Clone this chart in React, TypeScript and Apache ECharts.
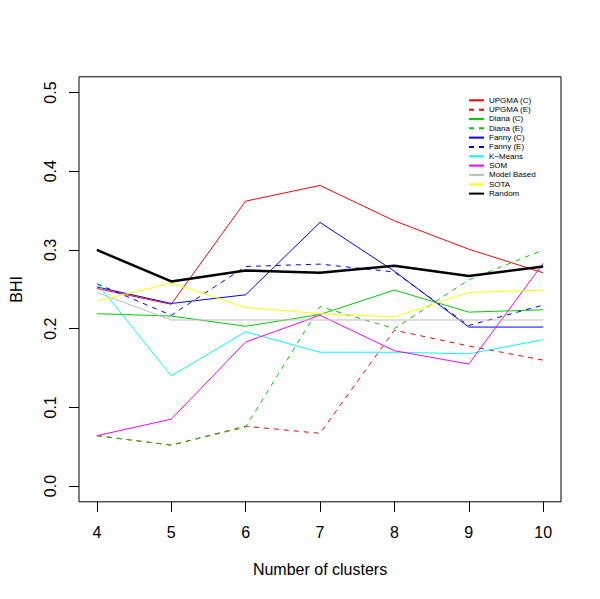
import React, { useEffect, useRef } from "react";
import * as echarts from "echarts";

const clusters = [4, 5, 6, 7, 8, 9, 10];
const yTicks = [0, 0.1, 0.2, 0.3, 0.4, 0.5];

const upgmaC = [0.251, 0.231, 0.362, 0.382, 0.337, 0.301, 0.271];
const upgmaE = [0.064, 0.052, 0.076, 0.067, 0.198, 0.178, 0.160];
const dianaC = [0.219, 0.216, 0.203, 0.218, 0.249, 0.221, 0.224];
const dianaE = [0.064, 0.052, 0.075, 0.228, 0.200, 0.262, 0.300];
const fannyC = [0.253, 0.232, 0.243, 0.335, 0.273, 0.202, 0.202];
const fannyE = [0.257, 0.217, 0.279, 0.282, 0.272, 0.204, 0.230];
const kMeans = [0.258, 0.140, 0.196, 0.170, 0.170, 0.168, 0.186];
const som = [0.064, 0.085, 0.183, 0.217, 0.172, 0.155, 0.283];
const modelBased = [0.246, 0.211, 0.211, 0.211, 0.211, 0.211, 0.211];
const sota = [0.235, 0.258, 0.227, 0.219, 0.215, 0.246, 0.249];
const randomBHI = [0.300, 0.260, 0.274, 0.271, 0.280, 0.267, 0.279];

const seriesDefs = [
  { name: "UPGMA (C)", values: upgmaC, color: "#FF0000", dashed: false, width: 1 },
  { name: "UPGMA (E)", values: upgmaE, color: "#FF0000", dashed: true, width: 1 },
  { name: "Diana (C)", values: dianaC, color: "#00CD00", dashed: false, width: 1 },
  { name: "Diana (E)", values: dianaE, color: "#00CD00", dashed: true, width: 1 },
  { name: "Fanny (C)", values: fannyC, color: "#0000FF", dashed: false, width: 1 },
  { name: "Fanny (E)", values: fannyE, color: "#0000FF", dashed: true, width: 1 },
  { name: "K\u2212Means", values: kMeans, color: "#00FFFF", dashed: false, width: 1 },
  { name: "SOM", values: som, color: "#FF00FF", dashed: false, width: 1 },
  { name: "Model Based", values: modelBased, color: "#BEBEBE", dashed: false, width: 1 },
  { name: "SOTA", values: sota, color: "#FFFF00", dashed: false, width: 1 },
  { name: "Random", values: randomBHI, color: "#000000", dashed: false, width: 2.5 },
];

const FONT = "'Liberation Sans', Arial, Helvetica, sans-serif";

export default function App() {
  const ref = useRef<HTMLDivElement>(null);
  useEffect(() => {
    if (!ref.current) return;
    const chart = echarts.init(ref.current, null, { renderer: "svg" });
    chart.setOption({
      animation: false,
      backgroundColor: "#ffffff",
      textStyle: { fontFamily: FONT },
      grid: {
        left: 77.4,
        top: 76.8,
        width: 483.6,
        height: 425,
        show: true,
        borderColor: "#000",
        borderWidth: 1,
        backgroundColor: "transparent",
      },
      legend: {
        orient: "vertical",
        left: 468,
        top: 95.8,
        itemWidth: 15,
        itemHeight: 9,
        itemGap: 0.33,
        padding: 0,
        itemStyle: { color: "transparent", borderWidth: 0, opacity: 0 },
        textStyle: { fontSize: 8, lineHeight: 9, color: "#000", fontFamily: FONT },
        data: seriesDefs.map((s) => s.name),
      },
      xAxis: {
        type: "value",
        min: 3.76,
        max: 10.24,
        name: "Number of clusters",
        nameLocation: "middle",
        nameGap: 60,
        nameTextStyle: { fontSize: 16, color: "#000", fontFamily: FONT },
        axisLine: { show: false, onZero: false },
        splitLine: { show: false },
        axisTick: {
          show: true,
          inside: false,
          length: 10,
          customValues: clusters,
          lineStyle: { color: "#000", width: 1 },
        },
        axisLabel: {
          show: true,
          customValues: clusters,
          margin: 23,
          fontSize: 16,
          color: "#000",
          fontFamily: FONT,
        },
      },
      yAxis: {
        type: "value",
        min: -0.02,
        max: 0.52,
        name: "BHI",
        nameLocation: "middle",
        nameRotate: 90,
        nameGap: 55,
        nameTextStyle: { fontSize: 16, color: "#000", fontFamily: FONT },
        axisLine: { show: false, onZero: false },
        splitLine: { show: false },
        axisTick: {
          show: true,
          inside: false,
          length: 10,
          customValues: yTicks,
          lineStyle: { color: "#000", width: 1 },
        },
        axisLabel: {
          show: true,
          customValues: yTicks,
          rotate: 90,
          margin: 21,
          fontSize: 16,
          color: "#000",
          fontFamily: FONT,
          formatter: (v: number) => v.toFixed(1),
        },
      },
      series: seriesDefs.map((s) => ({
        name: s.name,
        type: "line",
        symbol: "none",
        showSymbol: false,
        color: s.color,
        lineStyle: {
          color: s.color,
          width: s.width,
          type: s.dashed ? [5, 5] : "solid",
        },
        data: clusters.map((c, i) => [c, s.values[i]]),
      })),
    });
    return () => chart.dispose();
  }, []);
  return (
    <div
      ref={ref}
      style={{ position: "fixed", left: 0, top: 0, width: 600, height: 599 }}
    />
  );
}
